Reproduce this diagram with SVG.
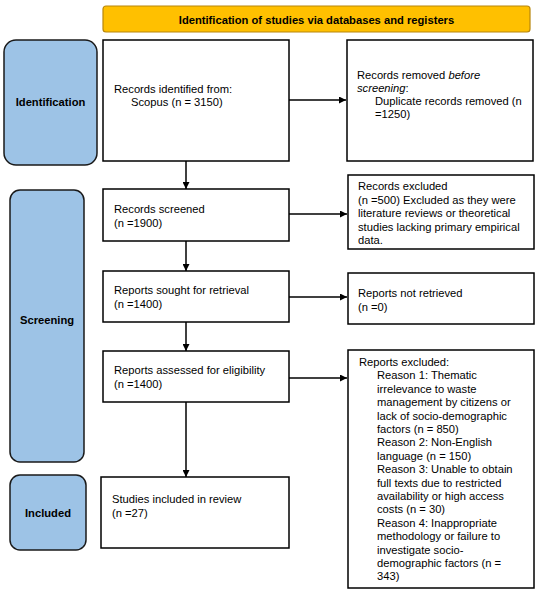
<svg xmlns="http://www.w3.org/2000/svg" width="550" height="595" viewBox="0 0 550 595">
<style>
text{font-family:"Liberation Sans",Arial,sans-serif;font-size:11.2px;fill:#000}
.b{font-weight:bold}
.box{fill:#fff;stroke:#000;stroke-width:1.5}
.phase{fill:#9DC3E6;stroke:#1a1a1a;stroke-width:1.5}
.hdr{fill:#FFC000;stroke:#B8860B;stroke-width:1.2}
.ln{stroke:#000;stroke-width:1.5;fill:none;marker-end:url(#ah)}
</style>
<defs>
<marker id="ah" viewBox="0 0 10 10" refX="10" refY="5" markerWidth="7" markerHeight="7" markerUnits="userSpaceOnUse" orient="auto">
<path d="M0,0 L10,5 L0,10 z" fill="#000"/>
</marker>
</defs>
<rect width="550" height="595" fill="#fff"/>
<g id="header">
<rect class="hdr" x="103" y="6" width="427" height="26" rx="3"/>
<text class="b" x="316.5" y="24" text-anchor="middle">Identification of studies via databases and registers</text>
</g>
<g id="phase-identification">
<rect class="phase" x="4" y="40" width="93" height="125" rx="12"/>
<text class="b" x="50.5" y="106" text-anchor="middle">Identification</text>
</g>
<g id="phase-screening">
<rect class="phase" x="10" y="190" width="74" height="272" rx="10"/>
<text class="b" x="47" y="324" text-anchor="middle">Screening</text>
</g>
<g id="phase-included">
<rect class="phase" x="10" y="475" width="76" height="75" rx="10"/>
<text class="b" x="48" y="517" text-anchor="middle">Included</text>
</g>
<g id="records-identified">
<rect class="box" x="103" y="40" width="186" height="121"/>
<text x="114" y="93">Records identified from:</text>
<text x="131" y="106">Scopus (n = 3150)</text>
</g>
<g id="records-removed">
<rect class="box" x="347" y="40" width="186" height="121"/>
<text x="357" y="79">Records removed <tspan font-style="italic">before</tspan></text>
<text x="357" y="92"><tspan font-style="italic">screening</tspan>:</text>
<text x="375" y="105">Duplicate records removed (n</text>
<text x="375" y="118">=1250)</text>
</g>
<g id="records-screened">
<rect class="box" x="103" y="189" width="186" height="52"/>
<text x="114" y="213">Records screened</text>
<text x="114" y="226.5">(n =1900)</text>
</g>
<g id="records-excluded">
<rect class="box" x="348" y="175" width="186" height="74"/>
<text x="358" y="190">Records excluded</text>
<text x="358" y="203.6">(n =500) Excluded as they were</text>
<text x="358" y="217.2">literature reviews or theoretical</text>
<text x="358" y="230.8">studies lacking primary empirical</text>
<text x="358" y="244.4">data.</text>
</g>
<g id="reports-sought">
<rect class="box" x="103" y="271" width="186" height="51"/>
<text x="114" y="294">Reports sought for retrieval</text>
<text x="114" y="307.5">(n =1400)</text>
</g>
<g id="reports-not-retrieved">
<rect class="box" x="348" y="273" width="186" height="51"/>
<text x="358" y="297">Reports not retrieved</text>
<text x="358" y="310.5">(n =0)</text>
</g>
<g id="reports-assessed">
<rect class="box" x="103" y="351" width="186" height="51"/>
<text x="114" y="374">Reports assessed for eligibility</text>
<text x="114" y="387.5">(n =1400)</text>
</g>
<g id="reports-excluded">
<rect class="box" x="348" y="350" width="186" height="238"/>
<text x="359" y="366">Reports excluded:</text>
<text x="377" y="379.4">Reason 1: Thematic</text>
<text x="377" y="392.8">irrelevance to waste</text>
<text x="377" y="406.2">management by citizens or</text>
<text x="377" y="419.6">lack of socio-demographic</text>
<text x="377" y="433">factors (n = 850)</text>
<text x="377" y="446.4">Reason 2: Non-English</text>
<text x="377" y="459.8">language (n = 150)</text>
<text x="377" y="473.2">Reason 3: Unable to obtain</text>
<text x="377" y="486.6">full texts due to restricted</text>
<text x="377" y="500">availability or high access</text>
<text x="377" y="513.4">costs (n = 30)</text>
<text x="377" y="526.8">Reason 4: Inappropriate</text>
<text x="377" y="540.2">methodology or failure to</text>
<text x="377" y="553.6">investigate socio-</text>
<text x="377" y="567">demographic factors (n =</text>
<text x="377" y="580.4">343)</text>
</g>
<g id="studies-included">
<rect class="box" x="101" y="477" width="188" height="71"/>
<text x="112" y="503">Studies included in review</text>
<text x="112" y="516.5">(n =27)</text>
</g>
<g id="connectors">
<line class="ln" x1="186" y1="161" x2="186" y2="189"/>
<line class="ln" x1="186" y1="241" x2="186" y2="271"/>
<line class="ln" x1="186" y1="322" x2="186" y2="351"/>
<line class="ln" x1="186" y1="402" x2="186" y2="477"/>
<line class="ln" x1="289" y1="100" x2="346" y2="100"/>
<line class="ln" x1="289" y1="214" x2="347" y2="214"/>
<line class="ln" x1="289" y1="297" x2="347" y2="297"/>
<line class="ln" x1="289" y1="378" x2="347" y2="378"/>
</g>
</svg>
